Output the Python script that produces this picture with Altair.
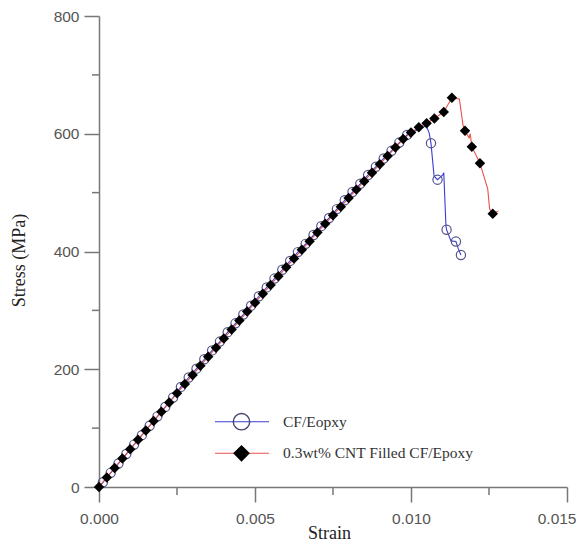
import altair as alt
import pandas as pd

# ---------------- data ----------------
# 0.3wt% CNT filled CF/Epoxy (diamonds, red line); marked=1 -> a diamond is drawn
cnt_strain = [0.0, 0.00025, 0.0005, 0.00075, 0.001, 0.00125, 0.0015, 0.00175, 0.002, 0.00225,
              0.0025, 0.00275, 0.003, 0.00325, 0.0035, 0.00375, 0.004, 0.00425, 0.0045, 0.00475,
              0.005, 0.00525, 0.0055, 0.00575, 0.006, 0.00625, 0.0065, 0.00675, 0.007, 0.00725,
              0.0075, 0.00775, 0.008, 0.00825, 0.0085, 0.00875, 0.009, 0.00925, 0.0095,
              0.00975, 0.0100, 0.01025, 0.0105, 0.01075, 0.01105, 0.01131, 0.01155, 0.01167,
              0.01173, 0.01186, 0.01190, 0.01195, 0.01221, 0.01246, 0.01252, 0.01262, 0.01280]
cnt_stress = [0, 16.2, 32.3, 48.3, 64.3, 80.2, 96.1, 112.0, 127.7, 143.5,
              159.1, 174.8, 190.3, 205.9, 221.3, 236.7, 252.1, 267.4, 282.7, 297.9,
              313.0, 328.1, 343.1, 358.1, 373.1, 388.0, 402.8, 417.5, 432.3, 447.0,
              461.6, 476.1, 490.7, 505.1, 519.5, 533.9, 548.2, 562.4, 576.6,
              591, 602, 611, 618, 626, 637, 661, 659, 614,
              605, 593, 600, 578, 550, 506, 472, 464, 469]
cnt_marked = [1] * 39 + [1, 1, 1, 1, 1, 1, 1, 0, 0,
                         1, 0, 0, 1, 1, 0, 0, 1, 0]

# CF/Epoxy (open circles, blue line)
cf_strain = [0.0, 0.000125, 0.000375, 0.000625, 0.000875, 0.001125, 0.001375, 0.001625, 0.001875,
             0.002125, 0.002375, 0.002625, 0.002875, 0.003125, 0.003375, 0.003625, 0.003875,
             0.004125, 0.004375, 0.004625, 0.004875, 0.005125, 0.005375, 0.005625, 0.005875,
             0.006125, 0.006375, 0.006625, 0.006875, 0.007125, 0.007375, 0.007625, 0.007875,
             0.008125, 0.008375, 0.008625, 0.008875, 0.009125, 0.009375, 0.009625, 0.009875,
             0.00992, 0.00998, 0.01005, 0.01030, 0.01048, 0.01058, 0.01064, 0.01074, 0.01085,
             0.01102, 0.01105, 0.01112, 0.01114, 0.01128, 0.01144, 0.01152, 0.01160]
cf_stress = [0, 8, 24, 40, 56, 72, 88, 104, 120,
             136, 152, 170, 186, 201, 217, 232, 247,
             263, 278, 293, 308, 324, 339, 354, 369,
             384, 399, 413, 428, 443, 457, 472, 487,
             501, 515, 530, 544, 558, 571, 585, 598,
             604, 594, 603, 608, 614, 602, 584, 528, 522,
             530, 534, 444, 437, 418, 417, 404, 394]
cf_marked = [0] + [1] * 40 + [0, 0, 0, 0, 0, 0, 1, 0, 1,
                              0, 0, 0, 1, 0, 1, 0, 1]

x_major = [0.0, 0.005, 0.010, 0.015]
x_minor = [0.0025, 0.0075, 0.0125]
y_major = [0, 200, 400, 600, 800]
y_minor = [100, 300, 500, 700]
legend_labels = ["CF/Eopxy", "0.3wt% CNT Filled CF/Epoxy"]

# ---------------- build tables ----------------
cnt = pd.DataFrame({"strain": cnt_strain, "stress": cnt_stress, "marked": cnt_marked})
cnt["idx"] = range(len(cnt))
cf = pd.DataFrame({"strain": cf_strain, "stress": cf_stress, "marked": cf_marked})
cf["idx"] = range(len(cf))

W, H = 468, 471
SERIF = "Liberation Serif"
SANS = "Liberation Sans"
AX = "#777777"

xscale = alt.Scale(domain=[0, 0.015], nice=False)
yscale = alt.Scale(domain=[0, 800], nice=False)

xaxis = alt.Axis(values=x_major, format=".3f", tickSize=15, labelPadding=9,
                 labelFlush=False, labelOverlap=False,
                 labelAlign=alt.condition("datum.value > 0.014", alt.value("right"), alt.value("center")),
                 labelOffset=alt.condition("datum.value > 0.014", alt.value(9), alt.value(0)),
                 title="Strain", titleX=230, titleY=51, titleAlign="center",
                 titleBaseline="alphabetic")
yaxis = alt.Axis(values=y_major, tickSize=15, labelPadding=5, labelFlush=False,
                 title="Stress (MPa)", titleX=-80, titleY=244, titleAlign="center",
                 titleBaseline="middle")

X = alt.X("strain:Q", scale=xscale, axis=xaxis)
Y = alt.Y("stress:Q", scale=yscale, axis=yaxis)

cf_line = alt.Chart(cf).mark_line(color="#3b3bd6", strokeWidth=1.1).encode(
    x=X, y=Y, order=alt.Order("idx:Q"))
cf_pts = alt.Chart(cf).transform_filter("datum.marked == 1").mark_point(
    shape="circle", size=85, filled=False, stroke="#55558a", strokeWidth=1.2, opacity=1
).encode(x=X, y=Y)
cnt_line = alt.Chart(cnt).mark_line(color="#e8524a", strokeWidth=1.1).encode(
    x=X, y=Y, order=alt.Order("idx:Q"))
cnt_pts = alt.Chart(cnt).transform_filter("datum.marked == 1").mark_point(
    shape="diamond", size=110, filled=True, color="#000000", opacity=1
).encode(x=X, y=Y)

# minor ticks
xminor = alt.Chart(pd.DataFrame({"strain": x_minor})).mark_rule(
    color=AX, strokeWidth=1.5).encode(x=X, y=alt.value(H), y2=alt.value(H + 8))
yminor = alt.Chart(pd.DataFrame({"stress": y_minor})).mark_rule(
    color=AX, strokeWidth=1.5).encode(y=Y, x=alt.value(0), x2=alt.value(-7))

# legend (drawn by hand)
LY1, LY2 = 405.7, 437.3
leg = []
leg.append(alt.Chart(alt.Data(values=[{"t": legend_labels[0]}])).mark_rule(
    color="#3b3bd6", strokeWidth=1.1).encode(x=alt.value(116), x2=alt.value(170), y=alt.value(LY1)))
leg.append(alt.Chart(alt.Data(values=[{"t": legend_labels[0]}])).mark_point(
    shape="circle", size=270, filled=False, stroke="#444470", strokeWidth=1.4, opacity=1
).encode(x=alt.value(142.5), y=alt.value(LY1)))
leg.append(alt.Chart(alt.Data(values=[{"t": legend_labels[0]}])).mark_text(
    align="left", baseline="middle", font=SERIF, fontSize=15.5, color="#333333"
).encode(x=alt.value(184), y=alt.value(LY1), text="t:N"))
leg.append(alt.Chart(alt.Data(values=[{"t": legend_labels[1]}])).mark_rule(
    color="#e8524a", strokeWidth=1.1).encode(x=alt.value(116), x2=alt.value(170), y=alt.value(LY2)))
leg.append(alt.Chart(alt.Data(values=[{"t": legend_labels[1]}])).mark_point(
    shape="diamond", size=280, filled=True, color="#000000", opacity=1
).encode(x=alt.value(142.5), y=alt.value(LY2)))
leg.append(alt.Chart(alt.Data(values=[{"t": legend_labels[1]}])).mark_text(
    align="left", baseline="middle", font=SERIF, fontSize=15.5, color="#333333"
).encode(x=alt.value(184), y=alt.value(LY2), text="t:N"))

chart = alt.layer(
    cf_line, cf_pts, cnt_line, cnt_pts, xminor, yminor, *leg
).properties(
    width=W, height=H,
    autosize=alt.AutoSizeParams(type="none"),
    padding={"left": 91, "top": 8, "right": 9, "bottom": 57},
    background="white",
).configure_view(stroke=None).configure_axis(
    grid=False, domainColor=AX, domainWidth=1.5, tickColor=AX, tickWidth=1.5,
    labelFont=SANS, labelFontSize=15.5, labelColor="#555555",
    titleFont=SERIF, titleFontSize=18, titleFontWeight="normal", titleColor="#222222",
)

chart.save("out.html", embed_options={"renderer": "svg", "actions": False})
